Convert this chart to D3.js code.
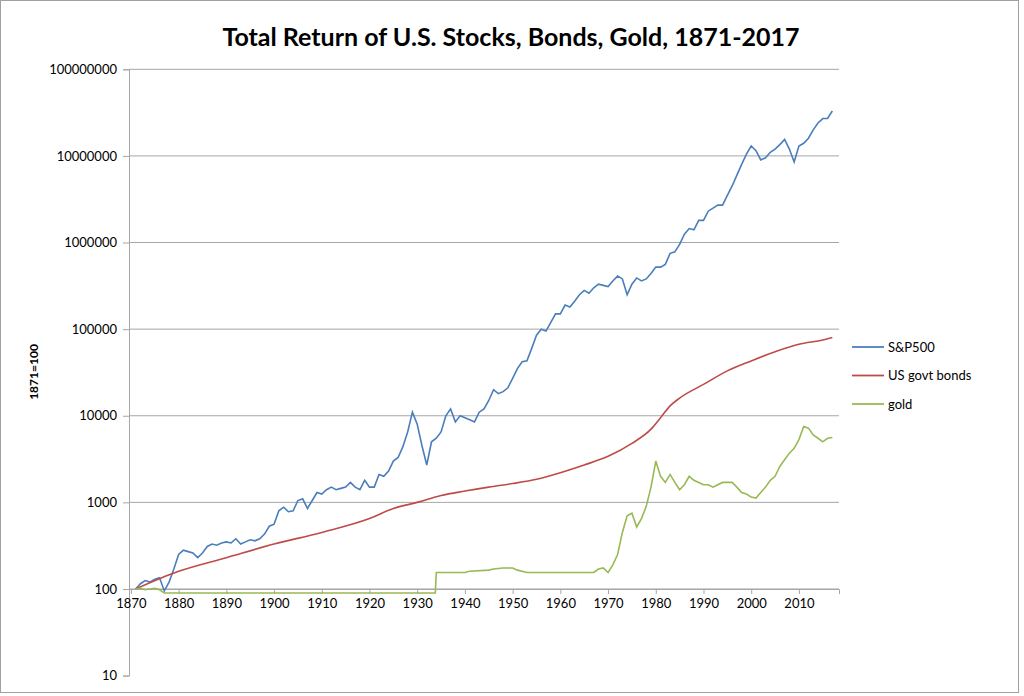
<!DOCTYPE html>
<html><head><meta charset="utf-8">
<script src="https://cdn.jsdelivr.net/npm/d3@7"></script>
<style>body{margin:0;background:#fff;font-family:Lato,"Open Sans",sans-serif}</style>
</head><body><svg id="c" width="1024" height="696"></svg>
<script>
const years = d3.range(1871, 2018);
const stocks = [100,115,125,120,130,135,95,120,170,250,280,270,260,230,260,310,330,320,340,350,340,380,330,350,370,360,380,430,530,560,800,880,780,800,1050,1100,850,1050,1300,1250,1400,1500,1400,1450,1500,1700,1500,1400,1800,1500,1500,2100,2000,2300,3000,3300,4400,6500,11000,8000,4500,2700,5000,5500,6500,10000,12000,8500,10000,9500,9000,8500,11000,12000,15000,20000,18000,19000,21000,27000,35000,42000,43000,60000,85000,100000,95000,120000,150000,150000,190000,180000,210000,250000,280000,260000,300000,330000,320000,310000,360000,410000,380000,250000,330000,390000,360000,380000,440000,520000,520000,560000,750000,780000,950000,1250000,1450000,1400000,1800000,1800000,2300000,2500000,2700000,2700000,3500000,4500000,6000000,8000000,10500000,13000000,11500000,9000000,9500000,11000000,12000000,13500000,15500000,12000000,8500000,13000000,14000000,16000000,20000000,24000000,27000000,27000000,33000000];
const bondYears = [1871,1880,1890,1900,1910,1920,1925,1930,1935,1940,1945,1950,1955,1960,1965,1970,1975,1979,1981,1983,1985,1990,1995,2000,2005,2010,2015,2017];
const bonds = [100,160,230,330,450,650,850,1000,1200,1350,1500,1650,1850,2200,2700,3400,4800,7000,9500,13000,16000,23000,33000,43000,55000,67000,75000,80000];
const goldYears = [1871,1872,1873,1874,1875,1876,1877,1933.8,1934,1940,1941,1945,1946,1948,1950,1951,1953,1960,1967,1968,1969,1970,1971,1972,1973,1974,1975,1976,1977,1978,1979,1980,1981,1982,1983,1984,1985,1986,1987,1988,1989,1990,1991,1992,1993,1994,1995,1996,1997,1998,1999,2000,2001,2002,2003,2004,2005,2006,2007,2008,2009,2010,2011,2012,2013,2014,2015,2016,2017];
const gold = [100,102,98,100,102,98,90,90,155,155,160,165,170,175,175,165,155,155,155,170,175,155,190,250,450,700,750,520,650,900,1500,3000,2000,1700,2100,1700,1400,1600,2000,1800,1700,1600,1600,1500,1600,1700,1700,1700,1500,1300,1250,1150,1120,1300,1500,1800,2000,2600,3100,3700,4200,5300,7500,7200,6000,5500,5000,5500,5600];
const yTicks = [10,100,1000,10000,100000,1000000,10000000,100000000];
const xTicks = d3.range(1870, 2011, 10);
const seriesNames = ["S&P500","US govt bonds","gold"];
const colors = ["#4a7ebb","#be4b48","#98b954"];

const svg = d3.select("#c");
svg.append("rect").attr("x",0.5).attr("y",0.5).attr("width",1018).attr("height",692).attr("fill","none").attr("stroke","#a0a0a0");
const x = d3.scaleLinear().domain([1869.6, 2018.4]).range([129, 839]);
const y = d3.scaleLog().domain([10, 1e8]).range([675.6, 69.3]);

svg.append("g").selectAll("line").data(yTicks.filter(d=>d>10)).join("line")
  .attr("x1",129).attr("x2",839).attr("y1",d=>y(d)).attr("y2",d=>y(d)).attr("stroke","#a6a6a6").attr("stroke-width",1);
const ya = svg.append("g").attr("transform","translate(129,0)").call(d3.axisLeft(y).tickValues(yTicks).tickFormat(d3.format("d")).tickSize(6).tickPadding(6));
ya.select(".domain").attr("stroke","#a6a6a6");
ya.selectAll(".tick line").attr("stroke","#a6a6a6");
ya.selectAll("text").attr("font-size",13).attr("fill","#000").attr("font-family","Lato,sans-serif");
const xa = svg.append("g").attr("transform",`translate(0,${y(100)})`).call(d3.axisBottom(x).tickValues(xTicks).tickFormat(d3.format("d")).tickSize(5).tickPadding(5));
xa.select(".domain").attr("stroke","#a6a6a6");
xa.selectAll(".tick line").attr("stroke","#a6a6a6");
xa.selectAll("text").attr("font-size",13).attr("fill","#000").attr("font-family","Lato,sans-serif");

const line = d3.line().x(d=>x(d[0])).y(d=>y(d[1]));
const data = [d3.zip(years,stocks), d3.zip(bondYears,bonds), d3.zip(goldYears,gold)];
const curves = [d3.curveLinear, d3.curveMonotoneX, d3.curveLinear];
data.forEach((d,i)=>{
  svg.append("path").datum(d).attr("fill","none").attr("stroke",colors[i]).attr("stroke-width",1.6)
    .attr("d", line.curve(curves[i]));
});

svg.append("text").attr("x",511).attr("y",46).attr("text-anchor","middle").attr("font-size",25).attr("font-weight","bold").text("Total Return of U.S. Stocks, Bonds, Gold, 1871-2017");
svg.append("text").attr("transform","translate(38,372) rotate(-90)").attr("text-anchor","middle").attr("font-size",12).attr("font-weight","bold").text("1871=100");

const lg = svg.append("g");
seriesNames.forEach((n,i)=>{
  const yy = 347 + i*28.5;
  lg.append("line").attr("x1",852).attr("x2",884).attr("y1",yy).attr("y2",yy).attr("stroke",colors[i]).attr("stroke-width",1.8);
  lg.append("text").attr("x",888).attr("y",yy+4.5).attr("font-size",13).text(n);
});
</script></body></html>
